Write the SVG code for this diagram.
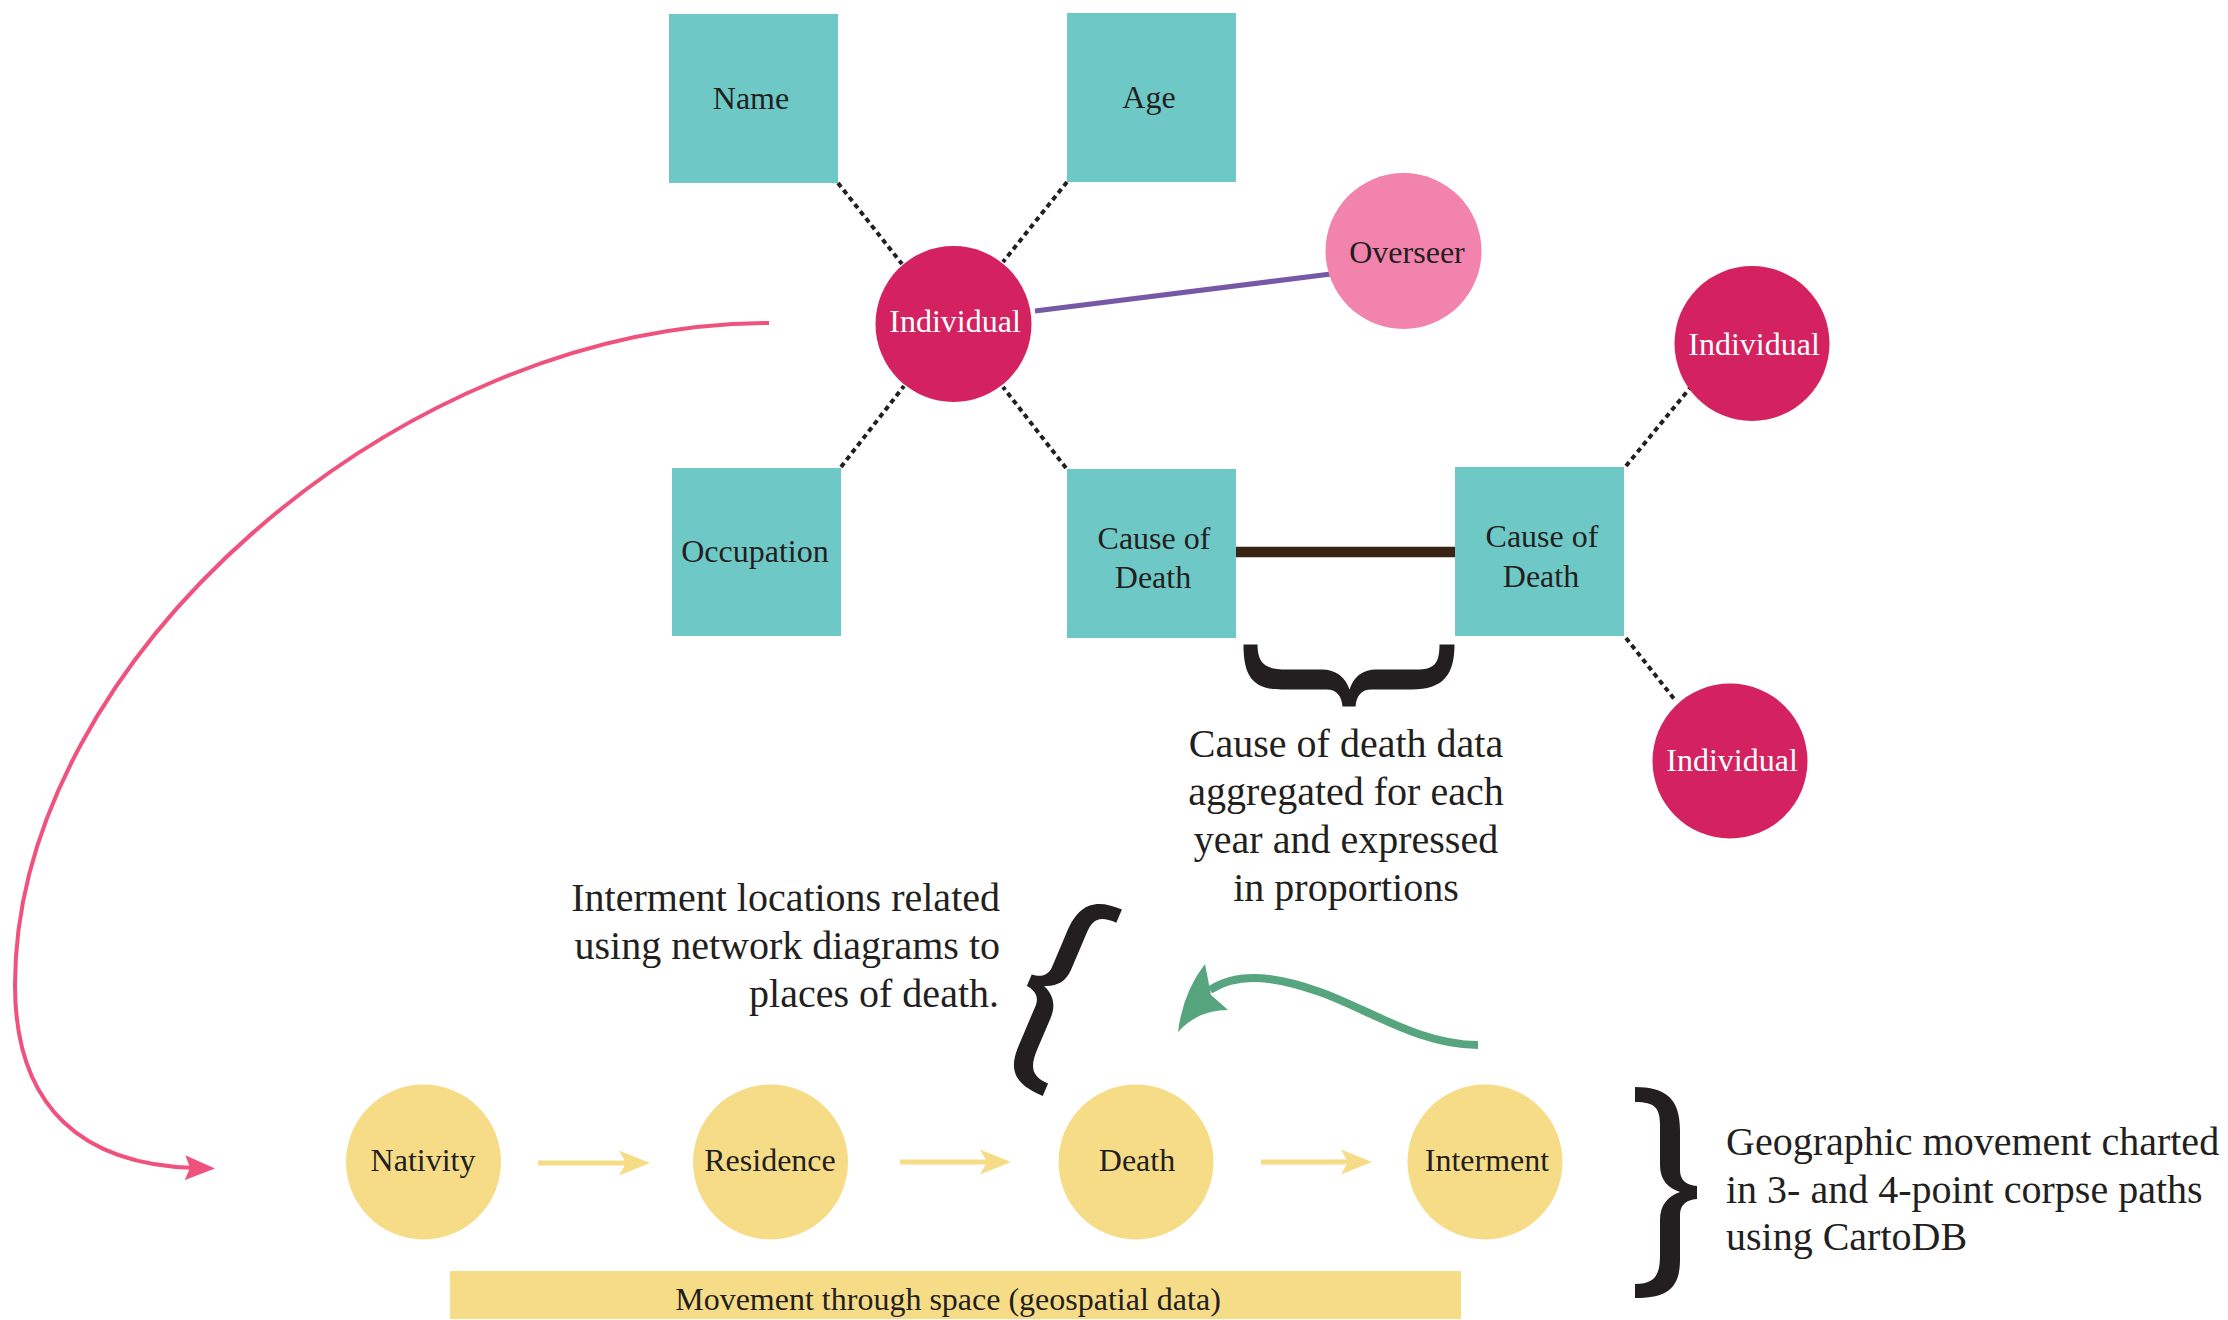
<svg xmlns="http://www.w3.org/2000/svg" xmlns:xlink="http://www.w3.org/1999/xlink" width="2228" height="1320" viewBox="0 0 2228 1320">
<style>
.box{fill:#6ec8c6}
.ind{fill:#d4215f}
.ovs{fill:#f283ac}
.yel{fill:#f7dc88}
.lbl{font-family:"Liberation Serif","Times New Roman",serif;font-size:32px;fill:#231f20;text-anchor:middle}
.w{fill:#ffffff}
.ann{font-family:"Liberation Serif","Times New Roman",serif;font-size:40px;fill:#231f20}
.dot{stroke:#231f20;stroke-width:4;stroke-dasharray:5 4;fill:none}
.brace{fill:#231f20}
</style>
<defs>
<marker id="arrYel" markerUnits="userSpaceOnUse" viewBox="0 -13 32 26" markerWidth="32" markerHeight="26" refX="11" refY="0" orient="auto">
<path d="M0,-12.5 L31,0 L0,12.5 L7,0 Z" fill="#f7dc88"/>
</marker>
<marker id="arrPink" markerUnits="userSpaceOnUse" viewBox="0 -13 32 26" markerWidth="32" markerHeight="26" refX="10" refY="0" orient="auto">
<path d="M0,-12.5 L30,0 L0,12.5 L5,0 Z" fill="#f0527e"/>
</marker>
<path id="braceR" d="M-31,-105 C-1,-105 14,-94 14,-62 L14,-22 C14,-12 20,-7 31,-6 L31,7 C20,8 14,13 14,23 L14,68 C14,98 -1,106 -31,106 L-31,92 C-11,92 -6,83 -6,63 L-6,28 C-6,13 2,4 14,0 C2,-4 -6,-12 -6,-27 L-6,-67 C-6,-84 -11,-90 -31,-90 Z"/>
</defs>
<rect width="2228" height="1320" fill="#ffffff"/>

<g id="connectors">
<line class="dot" x1="838" y1="183" x2="902" y2="264"/>
<line class="dot" x1="1067" y1="182" x2="1003" y2="262"/>
<line class="dot" x1="841" y1="467" x2="904" y2="386"/>
<line class="dot" x1="1066" y1="468" x2="1003" y2="387"/>
<line class="dot" x1="1626" y1="466" x2="1690" y2="388"/>
<line class="dot" x1="1626" y1="638" x2="1675" y2="700"/>
<line x1="1035" y1="311" x2="1331" y2="274" stroke="#7658a6" stroke-width="5"/>
<line x1="1236" y1="552" x2="1455" y2="552" stroke="#3a2314" stroke-width="10.5"/>
<path d="M769,323 C400,323 15,660 15,985 C15,1110 85,1165 195,1168" fill="none" stroke="#f0527e" stroke-width="4" marker-end="url(#arrPink)"/>
<line x1="538" y1="1163" x2="630" y2="1163" stroke="#f7dc88" stroke-width="5" marker-end="url(#arrYel)"/>
<line x1="900" y1="1162" x2="991" y2="1162" stroke="#f7dc88" stroke-width="5" marker-end="url(#arrYel)"/>
<line x1="1261" y1="1162" x2="1352" y2="1162" stroke="#f7dc88" stroke-width="5" marker-end="url(#arrYel)"/>
<path d="M1478,1045 C1420,1045 1370,1010 1320,992 C1280,978 1240,970 1210,990" fill="none" stroke="#57a57f" stroke-width="8"/>
<path d="M1205,964 Q1183,992 1178,1032 Q1198,1010 1228,1010 L1211,995 Z" fill="#57a57f"/>
</g>

<g id="braces">
<use xlink:href="#braceR" href="#braceR" class="brace" transform="translate(1349.5,675.5) rotate(90)"/>
<use xlink:href="#braceR" href="#braceR" class="brace" transform="translate(1666,1192)"/>
<use xlink:href="#braceR" href="#braceR" class="brace" transform="translate(1056,991) rotate(23) scale(-0.93,0.96)"/>
</g>

<g id="node-name"><rect class="box" x="669" y="14" width="169" height="169"/><text class="lbl" x="751" y="109">Name</text></g>
<g id="node-age"><rect class="box" x="1067" y="13" width="169" height="169"/><text class="lbl" x="1149" y="108">Age</text></g>
<g id="node-individual"><circle class="ind" cx="953.5" cy="324" r="78"/><text class="lbl w" x="955" y="332">Individual</text></g>
<g id="node-overseer"><circle class="ovs" cx="1403.5" cy="251" r="78"/><text class="lbl" x="1407" y="263">Overseer</text></g>
<g id="node-occupation"><rect class="box" x="672" y="468" width="169" height="168"/><text class="lbl" x="755" y="562">Occupation</text></g>
<g id="node-cause1"><rect class="box" x="1067" y="469" width="169" height="169"/><text class="lbl" x="1154" y="549">Cause of</text><text class="lbl" x="1153" y="588">Death</text></g>
<g id="node-cause2"><rect class="box" x="1455" y="467" width="169" height="169"/><text class="lbl" x="1542" y="547">Cause of</text><text class="lbl" x="1541" y="587">Death</text></g>
<g id="node-individual2"><circle class="ind" cx="1752" cy="343.5" r="77.5"/><text class="lbl w" x="1754" y="355">Individual</text></g>
<g id="node-individual3"><circle class="ind" cx="1730" cy="761" r="77.5"/><text class="lbl w" x="1732" y="771">Individual</text></g>

<g id="node-nativity"><circle class="yel" cx="423.5" cy="1162" r="77.5"/><text class="lbl" x="423" y="1171">Nativity</text></g>
<g id="node-residence"><circle class="yel" cx="770.5" cy="1162" r="77.5"/><text class="lbl" x="770" y="1171">Residence</text></g>
<g id="node-death"><circle class="yel" cx="1136" cy="1162" r="77.5"/><text class="lbl" x="1137" y="1171">Death</text></g>
<g id="node-interment"><circle class="yel" cx="1485" cy="1162" r="77.5"/><text class="lbl" x="1487" y="1171">Interment</text></g>

<g id="bar"><rect class="yel" x="450" y="1271" width="1011" height="48"/><text class="lbl" x="948" y="1310">Movement through space (geospatial data)</text></g>

<g id="note-cause">
<text class="ann" text-anchor="middle" x="1346" y="757">Cause of death data</text>
<text class="ann" text-anchor="middle" x="1346" y="805">aggregated for each</text>
<text class="ann" text-anchor="middle" x="1346" y="853">year and expressed</text>
<text class="ann" text-anchor="middle" x="1346" y="901">in proportions</text>
</g>
<g id="note-interment">
<text class="ann" text-anchor="end" x="1000" y="911">Interment locations related</text>
<text class="ann" text-anchor="end" x="1000" y="959">using network diagrams to</text>
<text class="ann" text-anchor="end" x="999" y="1007">places of death.</text>
</g>
<g id="note-geo">
<text class="ann" x="1726" y="1155">Geographic movement charted</text>
<text class="ann" x="1726" y="1203">in 3- and 4-point corpse paths</text>
<text class="ann" x="1726" y="1250">using CartoDB</text>
</g>
</svg>
